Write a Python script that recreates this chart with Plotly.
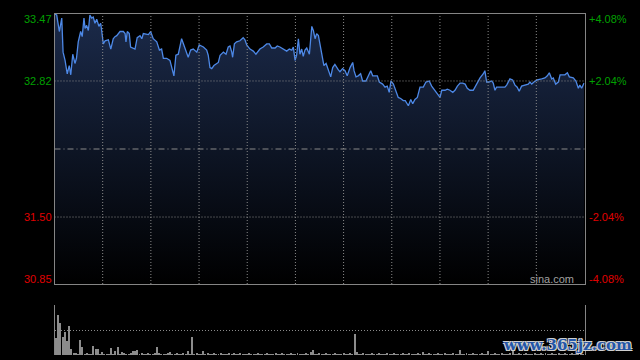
import plotly.graph_objects as go

# ---- data ----
minutes = [0, 1.0, 2.2, 3.3, 3.9, 4.8, 5.8, 6.7, 7.4, 8.3, 9.3, 10.0, 10.8, 11.9, 12.6, 13.4, 13.9, 14.6, 15.4, 16.1,
           16.9, 17.6, 18.4, 19.2, 20.2, 21.0, 21.5, 22.2, 23.0, 24.5, 25.6, 26.7, 27.5, 28.3, 29.8, 31.3, 32.1, 32.5,
           33.1, 34.0, 34.6, 36.6, 37.6, 38.9, 39.7, 40.4, 42.7, 43.7, 44.9, 46.5, 47.7, 48.7, 49.5, 51.0, 52.5, 53.7,
           54.3, 55.2, 56.3, 57.8, 59.3, 60.8, 61.9, 63.1, 64.7, 65.8,
           67.7, 69.2, 69.9, 70.7, 71.5, 72.5, 74.5, 75.3, 76.8, 78.0, 79.0, 79.8, 80.6, 81.0, 81.8, 82.8, 84.3, 85.8,
           86.6, 87.4, 88.9, 90.4, 91.6, 93.4, 94.9, 96.5, 97.7, 98.8, 100.3, 101.3, 102.5, 104.0, 105.6, 106.8, 107.9,
           108.6, 109.4, 110.1, 110.9, 111.6, 112.4, 113.1, 113.9, 114.7, 115.9, 117.0, 117.7, 118.5, 119.2, 120.0,
           121.0, 122.0, 122.5, 123.5, 124.5, 125.6, 126.5, 127.5, 129.0, 129.8, 131.0, 132.1, 133.1, 134.4, 135.6,
           136.2, 137.1, 138.1, 139.2, 140.1, 141.6, 142.7, 143.8, 144.7, 146.8, 147.7, 149.2, 150.3, 151.3, 152.2,
           153.0, 154.1, 155.3, 156.3, 157.4, 158.6, 159.5, 160.1, 160.9, 162.0, 162.9, 163.9, 165.0, 166.2, 167.7,
           168.9, 170.4, 171.5, 173.0, 174.5, 175.3, 176.1, 177.6, 178.6, 179.8, 181.1, 182.1, 183.2, 184.4, 185.6,
           186.7, 187.7, 188.9, 190.4, 192.0, 193.5, 195.0, 195.7, 196.5, 197.6, 198.8, 199.5, 200.3, 201.0, 203.3,
           204.8, 205.6, 207.1, 208.3, 209.4, 210.4, 211.3, 212.4, 213.9, 215.4, 216.2, 217.0, 218.0, 219.5, 221.5,
           223.0, 224.1, 225.0, 226.1, 226.8, 227.9, 229.1, 229.9, 232.1, 233.2, 234.1, 235.9, 237.1, 238.2, 238.9,
           239.7, 240.8]
prices = [33.47, 33.46, 33.30, 33.43, 33.10, 33.02, 32.89, 32.97, 32.88, 33.08, 32.99, 33.04, 33.20, 33.30, 33.25,
          33.43, 33.33, 33.36, 33.31, 33.46, 33.43, 33.44, 33.38, 33.42, 33.35, 33.38, 33.30, 33.18, 33.21, 33.22,
          33.13, 33.23, 33.25, 33.26, 33.30, 33.30, 33.28, 33.20, 33.30, 33.28, 33.15, 33.13, 33.24, 33.26, 33.23,
          33.28, 33.27, 33.30, 33.23, 33.20, 33.12, 33.13, 33.04, 33.04, 33.02, 32.92, 32.87, 33.07, 33.08, 33.23,
          33.13, 33.05, 33.12, 33.13, 33.10, 33.17,
          33.15, 33.12, 33.07, 32.95, 32.94, 32.97, 33.00, 33.07, 33.10, 33.08, 33.15, 33.16, 33.10, 33.05, 33.18,
          33.20, 33.21, 33.24, 33.22, 33.17, 33.13, 33.11, 33.08, 33.13, 33.15, 33.18, 33.18, 33.14, 33.14, 33.16,
          33.15, 33.13, 33.11, 33.13, 33.12, 33.15, 33.02, 33.07, 33.23, 33.08, 33.13, 33.06, 33.12, 33.14, 33.08,
          33.35, 33.31, 33.23, 33.28, 33.26, 33.15, 33.02, 32.97, 32.99, 32.93, 32.86, 32.95, 32.98, 32.93, 32.91,
          32.94, 32.92, 32.87, 32.95, 33.00, 32.92, 32.86, 32.87, 32.89, 32.82, 32.82, 32.87, 32.92, 32.87, 32.87,
          32.81, 32.79, 32.76, 32.77, 32.71, 32.82, 32.79, 32.71, 32.66, 32.65, 32.63, 32.63, 32.61, 32.58, 32.64,
          32.60, 32.64, 32.66, 32.76, 32.76, 32.81, 32.82, 32.77, 32.73, 32.68, 32.66, 32.73, 32.73, 32.74, 32.73,
          32.71, 32.73, 32.77, 32.80, 32.80, 32.79, 32.75, 32.73, 32.73, 32.79, 32.85, 32.89, 32.92, 32.81, 32.81,
          32.82, 32.80, 32.73, 32.76, 32.76, 32.76, 32.78, 32.84, 32.83, 32.78, 32.76, 32.72, 32.77, 32.78, 32.79,
          32.81, 32.79, 32.81, 32.83, 32.84, 32.85, 32.87, 32.90, 32.84, 32.85, 32.79, 32.81, 32.88, 32.88, 32.90,
          32.86, 32.85, 32.82, 32.75, 32.78, 32.75, 32.80]

volumes = [17, 40, 32, 18, 23, 14, 29, 6, 2, 2,
           1, 15, 8, 1, 2, 1, 1, 9, 6, 6,
           1, 3, 1, 1, 1, 7, 1, 4, 8, 1,
           3, 2, 1, 1, 2, 4, 4, 5, 1, 2,
           1, 1, 2, 1, 1, 2, 8, 2, 1, 1,
           1, 2, 3, 1, 1, 2, 1, 1, 2, 1,
           4, 1, 18, 1, 2, 1, 1, 4, 1, 2,
           1, 1, 2, 1, 1, 2, 1, 1, 1, 2,
           1, 2, 1, 1, 2, 1, 1, 1, 2, 1,
           1, 1, 2, 1, 1, 1, 2, 1, 1, 1,
           2, 1, 1, 2, 1, 1, 1, 2, 1, 1,
           2, 1, 1, 1, 2, 1, 3, 5, 1, 1,
           2, 1, 1, 2, 1, 1, 1, 2, 1, 1,
           1, 2, 1, 1, 2, 1, 21, 3, 1, 1,
           2, 1, 1, 1, 2, 1, 1, 2, 1, 1,
           1, 2, 1, 1, 2, 1, 1, 1, 2, 1,
           1, 2, 1, 1, 1, 2, 1, 3, 1, 1,
           2, 1, 1, 1, 2, 1, 1, 2, 1, 1,
           1, 2, 1, 1, 5, 1, 1, 2, 1, 1,
           2, 1, 1, 1, 2, 1, 1, 4, 1, 1,
           2, 1, 1, 2, 1, 1, 1, 2, 6, 1,
           1, 2, 1, 1, 2, 1, 1, 1, 2, 1,
           1, 2, 1, 2, 1, 1, 2, 1, 1, 2,
           1, 1, 2, 1, 1, 2, 1, 1, 2, 1, 1]
vol_minutes = list(range(len(volumes)))

price_ticks = [33.47, 32.82, 31.50, 30.85]
pct_labels = ["+4.08%", "+2.04%", "-2.04%", "-4.08%"]
prev_close = 32.16
n_minutes = 241
n_vgrid = 11

GREEN = "#00a000"
RED = "#e00000"
GRID = "#8a8a8a"
BORDER = "#858585"
DOT = "1px,2px"
FONT = "Liberation Sans, Arial, sans-serif"

W, H = 640, 360
x_dom = [54.5 / W, 584.5 / W]
y_dom_main = [(H - 284) / H, (H - 14) / H]
y_dom_vol = [(H - 355) / H, (H - 305) / H]

fig = go.Figure()

fig.add_trace(go.Scatter(
    x=minutes, y=prices, mode="lines",
    line=dict(color="#4d88e6", width=1.3),
    fill="tozeroy",
    fillgradient=dict(type="vertical",
                      colorscale=[[0, "#000000"], [1, "#1b2a4a"]],
                      start=price_ticks[-1], stop=price_ticks[0]),
    xaxis="x", yaxis="y", hoverinfo="skip", showlegend=False))

fig.add_trace(go.Bar(
    x=vol_minutes, y=volumes, width=0.45,
    marker=dict(color="#8c8c8c", line=dict(width=0)),
    xaxis="x2", yaxis="y2", hoverinfo="skip", showlegend=False))

grid_x = [n_minutes * k / n_vgrid for k in range(1, n_vgrid)]

fig.update_layout(
    width=W, height=H, margin=dict(l=0, r=0, t=0, b=0),
    paper_bgcolor="#000000", plot_bgcolor="rgba(0,0,0,0)",
    bargap=0,
    xaxis=dict(domain=x_dom, range=[0, n_minutes], anchor="y",
               showticklabels=False, ticks="", showgrid=False,
               showline=True, linecolor=BORDER, linewidth=1, mirror=True, zeroline=False),
    yaxis=dict(domain=y_dom_main, range=[price_ticks[-1], price_ticks[0]], anchor="x",
               showticklabels=False, ticks="", showgrid=False,
               showline=True, linecolor=BORDER, linewidth=1, mirror=True, zeroline=False),
    xaxis2=dict(domain=x_dom, range=[-0.5, n_minutes], anchor="y2",
                showticklabels=False, ticks="", showgrid=False, showline=False, zeroline=False),
    yaxis2=dict(domain=y_dom_vol, range=[0, 50], anchor="x2",
                tickvals=[25, 50], showticklabels=False, ticks="",
                showgrid=True, gridcolor=GRID, griddash=DOT, gridwidth=1,
                showline=True, linecolor=BORDER, linewidth=1, mirror=True, zeroline=False),
)

# grid lines drawn above the filled area
for gx in grid_x:
    fig.add_shape(type="line", xref="x", yref="y domain", x0=gx, x1=gx, y0=0, y1=1, layer="above",
                  line=dict(color=GRID, width=1, dash=DOT))
for gy in price_ticks[1:3]:
    fig.add_shape(type="line", xref="x domain", yref="y", x0=0, x1=1, y0=gy, y1=gy, layer="above",
                  line=dict(color=GRID, width=1, dash=DOT))

fig.add_shape(type="line", xref="x domain", yref="y", x0=0, x1=1, y0=prev_close, y1=prev_close,
              layer="above", line=dict(color="#8a8a8a", width=1, dash="6px,3px,1px,3px"))

shifts = [-5, 0, 0, 5]
colors = [GREEN, GREEN, RED, RED]
for val, pct, dy, c in zip(price_ticks, pct_labels, shifts, colors):
    fig.add_annotation(x=54 / W, xref="paper", y=val, yref="y", yshift=dy,
                       text=f"{val:.2f}", showarrow=False, xanchor="right", yanchor="middle",
                       font=dict(family=FONT, size=11, color=c))
    fig.add_annotation(x=587 / W, xref="paper", y=val, yref="y", yshift=dy,
                       text=pct, showarrow=False, xanchor="left", yanchor="middle",
                       font=dict(family=FONT, size=11, color=c))

fig.add_annotation(x=576 / W, xref="paper", y=(H - 279) / H, yref="paper",
                   text="sina.com", showarrow=False, xanchor="right", yanchor="middle",
                   font=dict(family=FONT, size=11, color="#a0a0a0"))

fig.add_annotation(x=634 / W, xref="paper", y=(H - 345) / H, yref="paper",
                   text="<b>www.365jz.com</b>", showarrow=False, xanchor="right", yanchor="middle",
                   font=dict(family="DejaVu Serif, serif", size=15, color="#2456a8",
                             shadow="-1px -1px 0 #d0d0d0, 1px -1px 0 #d0d0d0, -1px 1px 0 #d0d0d0, 1px 1px 0 #d0d0d0"))

fig.write_html("out.html")
